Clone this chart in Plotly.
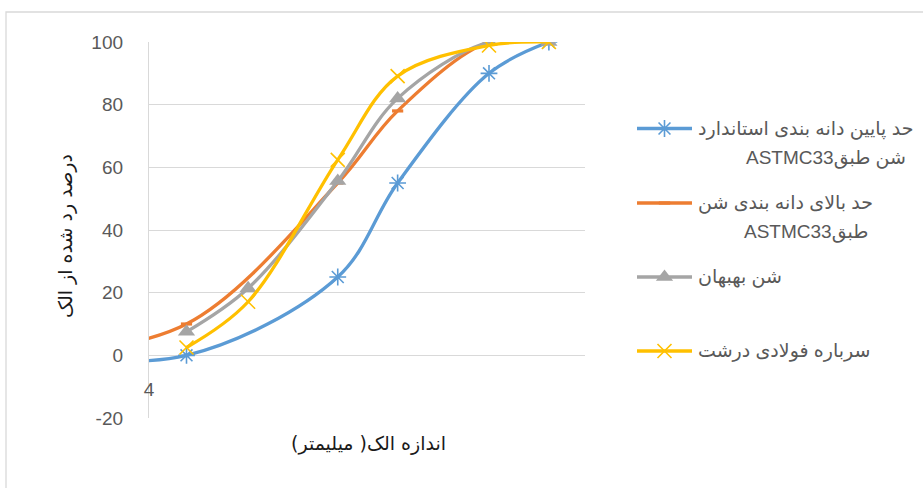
import math
import plotly.graph_objects as go

# Sieve sizes (mm) and percent passing for each gradation curve
lower_x = [2.36, 4.75, 9.5, 12.5, 19, 25]
lower_y = [0, 0, 25, 55, 90, 100]
upper_x = [2.36, 4.75, 9.5, 12.5, 19, 25]
upper_y = [0, 10, 55, 78, 100, 100]
behbahan_x = [4.75, 6.3, 9.5, 12.5, 19, 25]
behbahan_y = [7.5, 21.4, 55.6, 82, 100, 100]
slag_x = [4.75, 6.3, 9.5, 12.5, 19, 25]
slag_y = [2.5, 17.1, 62.4, 89.1, 98.9, 100]

names = [
    ("حد پایین دانه بندی استاندارد", "شن طبقASTMC33"),
    ("حد بالای دانه بندی شن", "طبقASTMC33"),
    ("شن بهبهان",),
    ("سرباره فولادی درشت",),
]
x_title = "اندازه الک( میلیمتر)"
y_title = "درصد رد شده از الک"
x_ticks = [4]
x_ticktext = ["4"]
y_ticks = [-20, 0, 20, 40, 60, 80, 100]
y_ticktext = ["-20", "0", "20", "40", "60", "80", "100"]

W, H = 923, 488
BLUE, ORANGE, GRAY, YELLOW = "#5B9BD5", "#ED7D31", "#A5A5A5", "#FFC000"
TXT = "#595959"
FONT = "Liberation Sans, DejaVu Sans, sans-serif"
TITLE_FONT = "DejaVu Sans, Liberation Sans, sans-serif"

# plot area in pixels
PL, PR, PT, PB = 149, 585, 42, 418


def fx(px):
    return px / W


def fy(py):
    return 1 - py / H


def rtl(s):
    # lay the string out as a right-to-left run
    return "\u202b" + s + "\u202c"


series = [
    (lower_x, lower_y, BLUE, dict(symbol="asterisk-open", size=14, color=BLUE, line=dict(width=1.6, color=BLUE))),
    (upper_x, upper_y, ORANGE, dict(symbol="line-ew-open", size=8, color=ORANGE, line=dict(width=3.2, color=ORANGE))),
    (behbahan_x, behbahan_y, GRAY, dict(symbol="triangle-up", size=15, color=GRAY, line=dict(width=0))),
    (slag_x, slag_y, YELLOW, dict(symbol="x-thin-open", size=14, color=YELLOW, line=dict(width=1.6, color=YELLOW))),
]

fig = go.Figure()
for (xs, ys, col, mk), nm in zip(series, names):
    fig.add_trace(go.Scatter(
        x=xs, y=ys, mode="lines+markers", name=" ".join(nm),
        line=dict(color=col, width=3.3, shape="spline", smoothing=1.0),
        marker=mk, showlegend=False,
    ))

# legend samples drawn on a full-page helper axis measured in pixels
rows = [128.5, 203, 277, 351]
for (xs, ys, col, mk), ry in zip(series, rows):
    fig.add_trace(go.Scatter(
        x=[637, 692], y=[ry, ry], mode="lines", xaxis="x2", yaxis="y2",
        line=dict(color=col, width=3.3), showlegend=False, hoverinfo="skip",
    ))
    fig.add_trace(go.Scatter(
        x=[664.5], y=[ry], mode="markers", xaxis="x2", yaxis="y2",
        marker=mk, showlegend=False, hoverinfo="skip", cliponaxis=False,
    ))

annotations = []
# legend labels
legend_lines = [
    [(names[0][0], "left", 696, 129), (names[0][1], "right", 908, 158)],
    [(names[1][0], "left", 696, 203), (names[1][1], "right", 870, 232)],
    [(names[2][0], "left", 696, 277)],
    [(names[3][0], "left", 696, 351)],
]
for entry in legend_lines:
    for txt, anchor, px, py in entry:
        annotations.append(dict(
            text=rtl(txt), x=fx(px), y=fy(py), xref="paper", yref="paper",
            xanchor=anchor, yanchor="middle", showarrow=False,
            font=dict(family=FONT, size=19, color=TXT),
        ))

# axis titles
annotations.append(dict(
    text=rtl(x_title), x=fx(368), y=fy(443), xref="paper", yref="paper",
    xanchor="center", yanchor="middle", showarrow=False,
    font=dict(family=TITLE_FONT, size=19, color="#1a1a1a"),
))
annotations.append(dict(
    text=rtl(y_title), x=fx(65), y=fy(236), xref="paper", yref="paper",
    xanchor="center", yanchor="middle", showarrow=False, textangle=-90,
    font=dict(family=TITLE_FONT, size=19, color="#1a1a1a"),
))

fig.update_layout(
    width=W, height=H,
    margin=dict(l=0, r=0, t=0, b=0, autoexpand=False),
    paper_bgcolor="white", plot_bgcolor="rgba(0,0,0,0)",
    showlegend=False,
    xaxis=dict(
        type="log", range=[math.log10(4), math.log10(29.5)],
        domain=[fx(PL), fx(PR)], anchor="free", position=fy(356.7),
        showgrid=False, zeroline=False, showline=False, ticks="",
        tickvals=x_ticks, ticktext=x_ticktext, ticklabelstandoff=19,
        tickfont=dict(family=FONT, size=19, color=TXT),
    ),
    yaxis=dict(
        range=[-20, 100], domain=[fy(PB), fy(PT)],
        tickvals=y_ticks, ticktext=y_ticktext,
        showgrid=True, gridcolor="#d9d9d9", gridwidth=1.3,
        zeroline=False, showline=True, linecolor="#d9d9d9", linewidth=1.3,
        ticks="", ticklabelstandoff=21,
        tickfont=dict(family=FONT, size=19, color=TXT),
    ),
    xaxis2=dict(domain=[0, 1], range=[0, W], visible=False, anchor="y2"),
    yaxis2=dict(domain=[0, 1], range=[H, 0], visible=False, anchor="x2"),
    annotations=annotations,
    shapes=[
        dict(
            type="rect", xref="paper", yref="paper",
            x0=fx(6), x1=fx(W + 5), y0=fy(H + 5), y1=fy(12),
            line=dict(color="#d9d9d9", width=1.3), fillcolor="rgba(0,0,0,0)",
        ),
    ],
)

fig.write_html("out.html")
